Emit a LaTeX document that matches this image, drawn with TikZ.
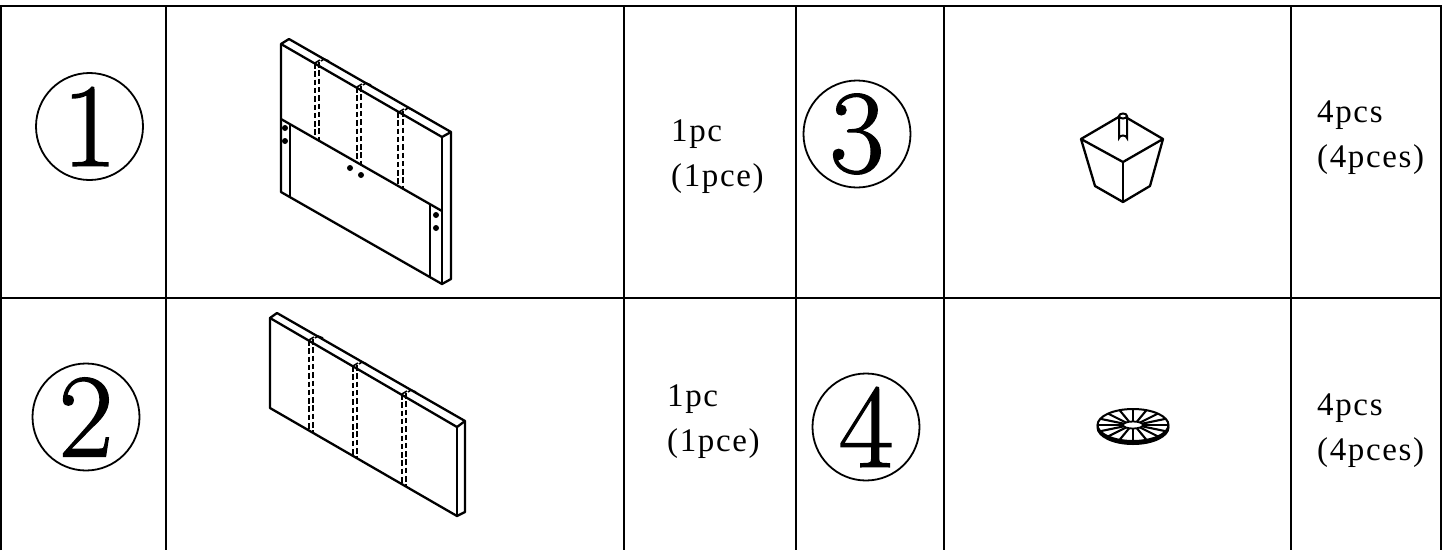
\documentclass[tikz,border=0pt]{standalone}
\usepackage{fontspec}
\setmainfont{Liberation Serif}
\newfontfamily\numfont[FakeBold=1.2]{Latin Modern Roman}
\newfontfamily\labfont[LetterSpace=5]{Liberation Serif}
\tikzset{
  rule/.style={line width=2.2pt,black},
  part/.style={line width=2.3pt,black,line join=round},
  hid/.style={line width=2.3pt,black,dash pattern=on 5.5pt off 2.8pt},
  tick/.style={line width=1.6pt,black},
  numring/.style={circle,draw,line width=1.8pt,minimum size=107pt,inner sep=0pt,font=\numfont\fontsize{119}{119}\selectfont},
  qty/.style={anchor=north west,align=left,inner sep=0pt,font=\labfont\fontsize{33}{45}\selectfont},
  hole/.style={circle,fill=black,minimum size=6pt,inner sep=0pt}
}
\begin{document}
\begin{tikzpicture}[x=1pt,y=-1pt]
\useasboundingbox (0,0) rectangle (1444,550);
\fill[white] (0,0) rectangle (1444,550);
% table
\coordinate (tl) at (1,6); \coordinate (tr) at (1441,6);
\coordinate (ml) at (1,298); \coordinate (mr) at (1441,298);
\draw[rule] (1,550) -- (tl) -- (tr) -- (1441,550);
\draw[rule] (ml) -- (mr);
\foreach \x in {166,624,796,944,1291}{\draw[rule] (\x,6) -- (\x,550);}
% numbers
\node[numring] (n1) at (89.5,126.5) {1};
\node[numring] (n2) at (86,417) {2};
\node[numring] (n3) at (857,134) {3};
\node[numring] (n4) at (866,427) {4};
% quantities
\node[qty] (q1) at (671,120) {1pc\\(1pce)};
\node[qty] (q2) at (667,385) {1pc\\(1pce)};
\node[qty] (q3) at (1317,101) {4pcs\\(4pces)};
\node[qty] (q4) at (1317,394) {4pcs\\(4pces)};
% part 1
\draw[part] (281,44) -- (289,39) -- (451,132) -- (451,279) -- (442,284) -- (281,192) -- cycle;
\draw[part] (281,44) -- (442,137) -- (451,132);
\draw[part] (442,137) -- (442,284);
\draw[part] (281,119) -- (442,211);
\draw[part] (290,124) -- (290,197);
\draw[part] (430,205) -- (430,277);
\foreach \a/\b/\c in {315/63/138,319/62/140,357/87/162,361/86/164,398/112/186,403/111/188}{
  \draw[hid] (\a,\b) -- (\a,\c);}
\foreach \a/\b in {319/62,361/86,403/111}{
  \draw[tick] (\a-4,\b+1) -- (\a+1,\b-2);
  \draw[tick] (\a+2,\b-1) -- (\a+5,\b-3);
  \draw[tick] (\a+5,\b-3) -- (\a+10,\b-1);}
\node[hole] (h1) at (285,128) {};
\node[hole] (h2) at (285,141) {};
\node[hole] (h3) at (350,168) {};
\node[hole] (h4) at (361,175) {};
\node[hole] (h5) at (436,215) {};
\node[hole] (h6) at (436,228) {};
% part 2
\draw[part] (270,318) -- (277,313) -- (465,421) -- (465,512) -- (457,516) -- (270,408) -- cycle;
\draw[part] (270,318) -- (457,427) -- (465,421);
\draw[part] (457,427) -- (457,516);
\foreach \a/\b/\c in {309/340/430,313/339/432,353/366/457,357/365/459,402/394/485,406/393/487}{
  \draw[hid] (\a,\b) -- (\a,\c);}
\foreach \a/\b in {313/339,357/365,406/393}{
  \draw[tick] (\a-4,\b+1) -- (\a+1,\b-2);
  \draw[tick] (\a+2,\b-1) -- (\a+5,\b-3);
  \draw[tick] (\a+5,\b-3) -- (\a+10,\b-1);}
% part 3 foot
\draw[part] (1081,139) -- (1122,115) -- (1163,139) -- (1123,162) -- cycle;
\draw[part] (1081,139) -- (1095,186) -- (1123,202) -- (1150,186) -- (1163,139);
\draw[part] (1123,162) -- (1123,202);
\draw[line width=2pt,fill=white] (1119,116) -- (1119,138) arc[start angle=180,end angle=360,x radius=4,y radius=2.5] -- (1127,116);
\draw[line width=2pt,fill=white] (1123,116) ellipse[x radius=4,y radius=2.5];
% part 4 washer
\fill (1133,427.5) ellipse[x radius=36.5,y radius=17.5];
\fill[white] (1133,425) ellipse[x radius=34.5,y radius=15.5];
\foreach \t in {0,22.5,...,337.5}{
  \draw[line width=2.1pt] ({1133+9*cos(\t)},{425+3*sin(\t)}) -- ({1133+35*cos(\t)},{425+16*sin(\t)});}
\draw[line width=1.8pt,fill=white] (1133,425) ellipse[x radius=10,y radius=3.5];
\draw[line width=2pt] (1133,425) ellipse[x radius=35.5,y radius=16];
\end{tikzpicture}
\end{document}
